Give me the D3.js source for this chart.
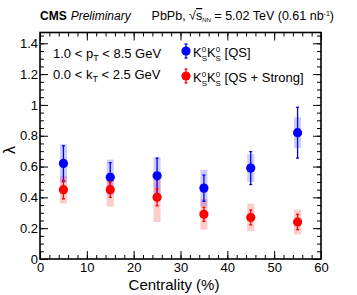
<!DOCTYPE html>
<html>
<head>
<meta charset="utf-8">
<script src="https://cdn.jsdelivr.net/npm/d3@7"></script>
<style>
  body { margin: 0; background: #fff; }
  svg { font-family: "Liberation Sans", Arial, sans-serif; }
</style>
</head>
<body>
<svg id="chart" width="357" height="295"></svg>
<script>
// Data
const centrality = [5, 15, 25, 35, 45, 55];
const qsVal  = [0.62, 0.53, 0.54, 0.46, 0.59, 0.82];
const qsStat = [0.115, 0.095, 0.115, 0.085, 0.107, 0.165];
const qsSyst = [0.125, 0.115, 0.12, 0.12, 0.09, 0.10];
const strVal  = [0.45, 0.45, 0.40, 0.29, 0.27, 0.24];
const strStat = [0.06, 0.05, 0.055, 0.045, 0.048, 0.05];
const strSyst = [0.09, 0.11, 0.16, 0.10, 0.09, 0.08];
const xTicks = [0, 10, 20, 30, 40, 50, 60];
const yTicks = [0, 0.2, 0.4, 0.6, 0.8, 1, 1.2, 1.4];

const margin = {top: 32.5, right: 36, bottom: 36, left: 40};
const width = 357 - margin.left - margin.right;
const height = 295 - margin.top - margin.bottom;

const root = d3.select('#chart');
const svg = root.append('g')
    .attr('transform', `translate(${margin.left}, ${margin.top})`);

const xScale = d3.scaleLinear().domain([0, 60]).range([0, width]);
const yScale = d3.scaleLinear().domain([0, 1.47]).range([height, 0]);

// axes: major + minor ticks, inward
function styleAxis(g) {
    g.select('.domain').remove();
    g.selectAll('line').attr('stroke', '#000').attr('stroke-width', 1);
    g.selectAll('text').attr('font-size', 13).attr('fill', '#000');
}
const xMinor = d3.range(0, 60.01, 2);
const yMinor = d3.range(0, 1.47, 0.05);

svg.append('g').attr('transform', `translate(0, ${height})`)
   .call(d3.axisBottom(xScale).tickValues(xTicks).tickSize(-8).tickPadding(4).tickFormat(d3.format('d')))
   .call(styleAxis);
svg.append('g').attr('transform', `translate(0, ${height})`)
   .call(d3.axisBottom(xScale).tickValues(xMinor).tickSize(-4).tickFormat(''))
   .call(styleAxis);
svg.append('g')
   .call(d3.axisTop(xScale).tickValues(xTicks).tickSize(-8).tickFormat(''))
   .call(styleAxis);
svg.append('g')
   .call(d3.axisTop(xScale).tickValues(xMinor).tickSize(-4).tickFormat(''))
   .call(styleAxis);

svg.append('g')
   .call(d3.axisLeft(yScale).tickValues(yTicks).tickSize(-8).tickPadding(2).tickFormat(d => d === 0 ? '0' : d === 1 ? '1' : d3.format('.1f')(d)))
   .call(styleAxis);
svg.append('g')
   .call(d3.axisLeft(yScale).tickValues(yMinor).tickSize(-4).tickFormat(''))
   .call(styleAxis);
svg.append('g').attr('transform', `translate(${width}, 0)`)
   .call(d3.axisRight(yScale).tickValues(yTicks).tickSize(-8).tickFormat(''))
   .call(styleAxis);
svg.append('g').attr('transform', `translate(${width}, 0)`)
   .call(d3.axisRight(yScale).tickValues(yMinor).tickSize(-4).tickFormat(''))
   .call(styleAxis);

// frame
svg.append('rect')
   .attr('width', width).attr('height', height)
   .attr('fill', 'none').attr('stroke', '#000').attr('stroke-width', 1.6);

// series
const series = [
    {val: qsVal, stat: qsStat, syst: qsSyst, color: '#0000ff', box: 'rgba(0,0,255,0.2)'},
    {val: strVal, stat: strStat, syst: strSyst, color: '#ff0000', box: 'rgba(255,0,0,0.2)'}
];
const boxW = 7;

series.forEach(s => {
    const pts = centrality.map((c, i) => ({x: c, y: s.val[i], e: s.stat[i], sy: s.syst[i]}));
    svg.selectAll(null).data(pts).enter().append('rect')
       .attr('x', d => xScale(d.x) - boxW / 2)
       .attr('width', boxW)
       .attr('y', d => yScale(d.y + d.sy))
       .attr('height', d => yScale(d.y - d.sy) - yScale(d.y + d.sy))
       .attr('fill', s.box);
});

series.forEach(s => {
    const pts = centrality.map((c, i) => ({x: c, y: s.val[i], e: s.stat[i]}));
    const g = svg.append('g').attr('stroke', s.color).attr('stroke-width', 1.3);
    g.selectAll(null).data(pts).enter().append('line')
       .attr('x1', d => xScale(d.x)).attr('x2', d => xScale(d.x))
       .attr('y1', d => yScale(d.y + d.e)).attr('y2', d => yScale(d.y - d.e));
    [1, -1].forEach(sgn => {
        g.selectAll(null).data(pts).enter().append('line')
           .attr('x1', d => xScale(d.x) - 1.5).attr('x2', d => xScale(d.x) + 1.5)
           .attr('y1', d => yScale(d.y + sgn * d.e)).attr('y2', d => yScale(d.y + sgn * d.e));
    });
    svg.selectAll(null).data(pts).enter().append('circle')
       .attr('cx', d => xScale(d.x)).attr('cy', d => yScale(d.y))
       .attr('r', 4.6).attr('fill', s.color);
});

// axis titles
root.append('text')
    .attr('x', 174).attr('y', 290)
    .attr('text-anchor', 'middle').attr('font-size', 15)
    .text('Centrality (%)');
root.append('text')
    .attr('transform', 'translate(15, 150) rotate(-90)')
    .attr('text-anchor', 'middle').attr('font-size', 16)
    .text('λ');

// header
const head = root.append('text').attr('x', 40).attr('y', 20).attr('font-size', 12);
head.append('tspan').attr('font-weight', 'bold').text('CMS');
head.append('tspan').attr('font-style', 'italic').attr('dx', 4).text('Preliminary');

const right = root.append('text').attr('x', 334).attr('y', 20).attr('font-size', 12.5).attr('text-anchor', 'end');
right.append('tspan').text('PbPb, ');
right.append('tspan').text('√');
right.append('tspan').attr('text-decoration', 'overline').text('s');
right.append('tspan').attr('font-size', 6).attr('dy', 2).text('NN');
right.append('tspan').attr('dy', -2).text(' = 5.02 TeV (0.61 nb');
right.append('tspan').attr('font-size', 7).attr('dy', -4).text('-1');
right.append('tspan').attr('dy', 4).text(')');

// kinematic text
function kin(y, a, sub, b) {
    const t = root.append('text').attr('x', 53).attr('y', y).attr('font-size', 13);
    t.append('tspan').text(a);
    t.append('tspan').attr('font-size', 9).attr('dy', 3).text(sub);
    t.append('tspan').attr('dy', -3).text(b);
}
kin(58, '1.0 < p', 'T', ' < 8.5 GeV');
kin(79, '0.0 < k', 'T', ' < 2.5 GeV');

// legend
const legend = [
    {label: '[QS]', color: '#0000ff', y: 51},
    {label: '[QS + Strong]', color: '#ff0000', y: 76}
];
legend.forEach(l => {
    const cx = 186;
    const lg = root.append('g').attr('stroke', l.color).attr('stroke-width', 1.3);
    lg.append('line').attr('x1', cx).attr('x2', cx).attr('y1', l.y - 7).attr('y2', l.y + 7);
    lg.append('line').attr('x1', cx - 1.5).attr('x2', cx + 1.5).attr('y1', l.y - 7).attr('y2', l.y - 7);
    lg.append('line').attr('x1', cx - 1.5).attr('x2', cx + 1.5).attr('y1', l.y + 7).attr('y2', l.y + 7);
    root.append('circle').attr('cx', cx).attr('cy', l.y).attr('r', 4.6).attr('fill', l.color);
    const t = root.append('text').attr('x', 193).attr('y', l.y + 6).attr('font-size', 13);
    [0, -4].forEach(shift => {
        t.append('tspan').attr('dy', shift).text('K');
        t.append('tspan').attr('font-size', 8).attr('dy', -5).text('0');
        t.append('tspan').attr('font-size', 8).attr('dx', -4.5).attr('dy', 9).text('S');
    });
    t.append('tspan').attr('dy', -4).text(' ' + l.label);
});
</script>
</body>
</html>
